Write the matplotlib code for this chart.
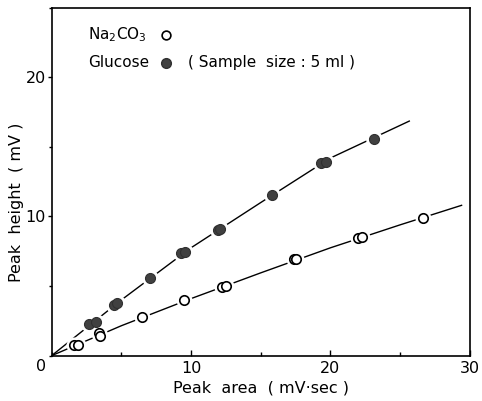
import matplotlib
matplotlib.use("Agg")
import matplotlib.pyplot as plt
from matplotlib.ticker import MultipleLocator

# Na2CO3 (open circles)
na_area = [1.6, 1.9, 3.4, 3.45, 6.5, 9.5, 12.25, 12.5, 17.35, 17.55, 22.0, 22.25, 26.65]
na_height = [0.75, 0.8, 1.6, 1.4, 2.75, 4.0, 4.95, 5.02, 6.93, 6.95, 8.46, 8.56, 9.92]
# fitted curve through the Na2CO3 points
na_fit_x = [0, 5, 10, 15, 20, 25, 29.4]
na_fit_y = [0, 2.15, 4.1, 5.95, 7.75, 9.4, 10.8]

# glucose (filled circles)
glu_area = [2.7, 3.15, 4.45, 4.7, 7.05, 9.25, 9.55, 11.9, 12.05, 15.8, 19.3, 19.65, 23.15]
glu_height = [2.27, 2.39, 3.63, 3.75, 5.6, 7.35, 7.45, 9.06, 9.1, 11.52, 13.84, 13.91, 15.53]
glu_fit_x = [0, 5, 10, 15, 20, 25.65]
glu_fit_y = [0, 4.0, 7.75, 11.0, 14.2, 16.85]

fig = plt.figure(figsize=(4.82, 4.01), dpi=100)
ax = fig.add_axes([0.107, 0.113, 0.868, 0.868])

plt.rcParams['font.family'] = 'DejaVu Sans'
fs = 11.5

ax.plot(na_fit_x, na_fit_y, color='k', lw=1.0, zorder=1)
ax.plot(glu_fit_x, glu_fit_y, color='k', lw=1.0, zorder=1)

# white halo so the line breaks around each marker
ax.plot(na_area, na_height, 'o', ms=10.5, mfc='w', mec='w', zorder=2)
ax.plot(glu_area, glu_height, 'o', ms=11, mfc='w', mec='w', zorder=2)
ax.plot(na_area, na_height, 'o', ms=6.8, mfc='w', mec='k', mew=1.2, zorder=3)
ax.plot(glu_area, glu_height, 'o', ms=7.2, mfc='#404040', mec='#303030', mew=0.8, zorder=4)

ax.set_xlim(0, 30)
ax.set_ylim(0, 25)
ax.set_xticks([10, 20, 30])
ax.set_yticks([10, 20])
ax.xaxis.set_minor_locator(MultipleLocator(5))
ax.yaxis.set_minor_locator(MultipleLocator(5))
ax.tick_params(axis='x', which='major', direction='in', length=4, width=1, labelsize=fs, pad=4)
ax.tick_params(axis='x', which='minor', direction='in', length=3, width=1)
ax.tick_params(axis='y', which='major', direction='out', length=3, width=1, labelsize=fs, pad=1)
ax.tick_params(axis='y', which='minor', direction='out', length=2, width=1)
for s in ax.spines.values():
    s.set_linewidth(1.2)

ax.text(-0.025, -0.032, '0', transform=ax.transAxes, fontsize=fs, ha='center', va='center')

ax.set_xlabel('Peak  area  ( mV·sec )', fontsize=fs, labelpad=3)
ax.set_ylabel('Peak  height  ( mV )', fontsize=fs)
ax.yaxis.set_label_coords(-0.066, 0.44)

# key
ax.text(0.088, 0.921, r'Na$_2$CO$_3$', transform=ax.transAxes, fontsize=fs - 0.5, va='center')
ax.plot([0.273], [0.921], 'o', transform=ax.transAxes, ms=6.3, mfc='w', mec='k', mew=1.2, clip_on=False)
ax.text(0.088, 0.841, 'Glucose', transform=ax.transAxes, fontsize=fs - 0.5, va='center')
ax.plot([0.273], [0.841], 'o', transform=ax.transAxes, ms=7, mfc='#404040', mec='#303030', clip_on=False)
ax.text(0.327, 0.841, '( Sample  size : 5 ml )', transform=ax.transAxes, fontsize=fs - 0.5, va='center')

fig.savefig('out.png', dpi=100)
